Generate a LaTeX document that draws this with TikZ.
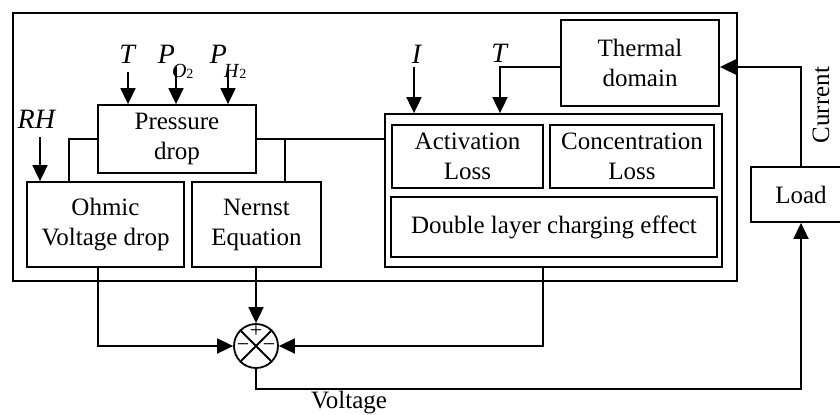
\documentclass[tikz,border=0pt]{standalone}
\usepackage{fontspec}
\setmainfont{Liberation Serif}
\usetikzlibrary{arrows.meta}
\newcommand{\psub}[1]{\textit{P}\kern-1.5pt\raisebox{-7pt}{\fontsize{10}{10}\selectfont\textit{#1}\raisebox{-0.5pt}{\fontsize{7}{7}\selectfont 2}}}
\begin{document}
\begin{tikzpicture}[x=0.5pt, y=-0.5pt, line width=0.9pt, >={Triangle[length=8pt,width=7.5pt]},
    every node/.style={font=\fontsize{12.5}{15}\selectfont, align=center, inner sep=0pt},
    blk/.style={draw, line width=0.9pt},
    lbl/.style={anchor=base},
    var/.style={anchor=base, font=\fontsize{14}{15}\selectfont},
    sgn/.style={font=\fontsize{11}{11}\selectfont}]
    \useasboundingbox (0,0) rectangle (840,414);

    \node[blk, minimum width=362pt, minimum height=134pt] (cell) at (375,147) {};
    \node[blk, minimum width=79pt, minimum height=34pt] (press) at (177,139) {Pressure\\drop};
    \node[blk, minimum width=78.5pt, minimum height=42.5pt] (ohmic) at (105.5,224.5) {Ohmic\\Voltage drop};
    \node[blk, minimum width=64.5pt, minimum height=42.5pt] (nernst) at (256.5,224.5) {Nernst\\Equation};
    \node[blk, minimum width=168.5pt, minimum height=76.5pt] (losses) at (553.5,190.5) {};
    \node[blk, minimum width=75.5pt, minimum height=31.5pt] (act) at (467.5,156.5) {Activation\\Loss};
    \node[blk, minimum width=82pt, minimum height=31.5pt] (conc) at (632,156.5) {Concentration\\Loss};
    \node[blk, minimum width=163pt, minimum height=30pt] (dlayer) at (554,227) {Double layer charging effect};
    \node[blk, minimum width=79pt, minimum height=43pt] (thermal) at (640,63) {Thermal\\domain};
    \node[blk, minimum width=50pt, minimum height=27.5pt] (load) at (801,194.5) {Load};
    \node[blk, circle, minimum size=22pt] (sum) at (256,346) {};
    \draw (sum.north west) -- (sum.south east);
    \draw (sum.north east) -- (sum.south west);
    \node[sgn] (plus) at (256,331) {+};
    \node[sgn] (minl) at (243,348) {−};
    \node[sgn] (minr) at (269,348) {−};

    \node[var] (tp) at (128,63) {\textit{T}};
    \node[var, anchor=base west] (po) at (157,63) {\psub{O}};
    \node[var, anchor=base west] (ph) at (209,63) {\psub{H}};
    \node[var] (rh) at (37,128) {\textit{RH}};
    \node[var] (ic) at (417,63) {\textit{I}};
    \node[var] (tl) at (500,62) {\textit{T}};
    \node[lbl] (volt) at (349,408) {Voltage};
    \node[lbl, rotate=90] (curr) at (829,105) {Current};

    \coordinate (tin) at (128,72);
    \coordinate (poin) at (176,67);
    \coordinate (phin) at (228,68);
    \coordinate (rhin) at (40,137);
    \coordinate (iin) at (414,67);

    \draw [->] (tin) -- (tin |- press.north);
    \draw [->] (poin) -- (poin |- press.north);
    \draw [->] (phin) -- (phin |- press.north);
    \draw [->] (rhin) -- (rhin |- ohmic.north);
    \draw [->] (iin) -- (iin |- losses.north);

    \draw (press.west) -| ([xshift=-18.25pt]ohmic.north);
    \draw (press.east) -| ([xshift=14.25pt]nernst.north);
    \draw (press.east) -- (losses.west |- press.east);

    \draw [->] ([yshift=-2pt]thermal.west) -| ([xshift=-26.75pt]losses.north);
    \draw [->] (load.north) |- ([yshift=-2pt]thermal.east);

    \draw [->] ([xshift=-3.75pt]ohmic.south) |- (sum.west);
    \draw [->] (sum.north |- nernst.south) -- (sum.north);
    \draw [->] ([xshift=-5.25pt]losses.south) |- (sum.east);
    \draw [->] (sum.south) -- ++(0,20) -| (load.south);
\end{tikzpicture}
\end{document}
